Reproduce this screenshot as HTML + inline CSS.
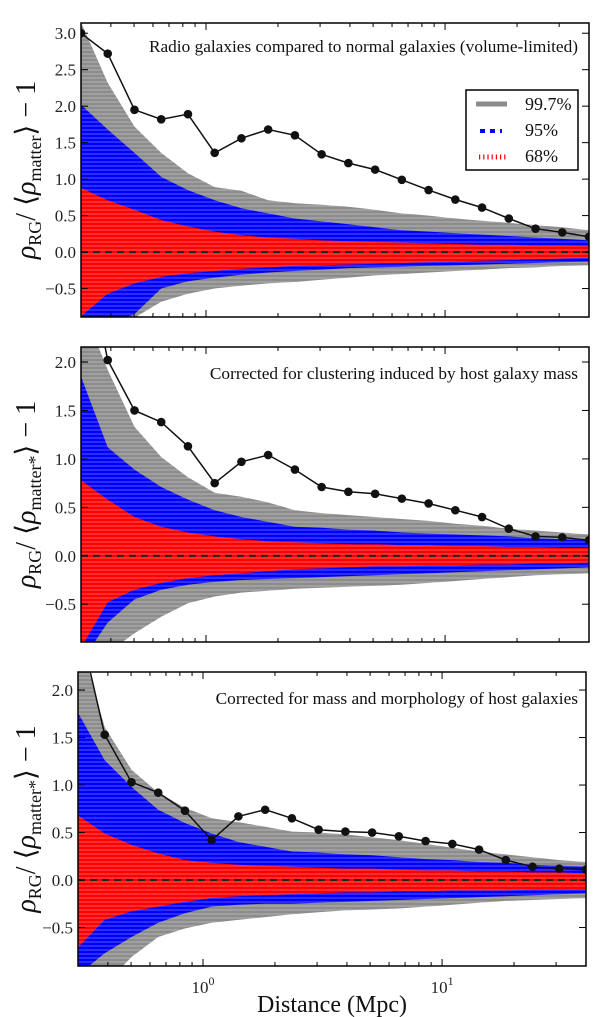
<!DOCTYPE html>
<html><head><meta charset="utf-8"><style>
html,body{margin:0;padding:0;background:#fff;}
svg{display:block;font-family:"Liberation Serif",serif;}
</style></head><body>
<svg id="chart" width="600" height="1017" viewBox="0 0 600 1017" xmlns="http://www.w3.org/2000/svg">
<defs>
<pattern id="hatch" width="8" height="4" patternUnits="userSpaceOnUse"><rect x="0" y="1.5" width="8" height="1" fill="#fff" opacity="0.35"/></pattern>
</defs>
</svg>
<script>
const NS="http://www.w3.org/2000/svg";
const svg=document.getElementById('chart');
const xMin=0.3, xMax=40;
const xTickLabels=["10","10"];
const yTicks=[-0.5,0.0,0.5,1.0,1.5,2.0,2.5,3.0];
const legendLabels=["99.7%","95%","68%"];
const titles=["Radio galaxies compared to normal galaxies (volume-limited)","Corrected for clustering induced by host galaxy mass","Corrected for mass and morphology of host galaxies"];

const obs1=[3.0,2.72,1.95,1.82,1.89,1.36,1.56,1.68,1.60,1.34,1.22,1.13,0.99,0.85,0.72,0.61,0.46,0.32,0.27,0.21];
const gu1=[3.15,2.32,1.72,1.36,1.08,0.89,0.84,0.71,0.67,0.65,0.62,0.58,0.53,0.50,0.46,0.43,0.40,0.37,0.34,0.30];
const bu1=[2.02,1.68,1.36,1.03,0.85,0.71,0.60,0.53,0.46,0.42,0.38,0.34,0.30,0.28,0.26,0.24,0.22,0.20,0.18,0.16];
const ru1=[0.88,0.71,0.58,0.44,0.35,0.28,0.23,0.20,0.18,0.16,0.15,0.14,0.13,0.12,0.11,0.10,0.10,0.09,0.09,0.08];
const rl1=[-0.88,-0.57,-0.43,-0.34,-0.29,-0.26,-0.23,-0.21,-0.19,-0.18,-0.17,-0.16,-0.15,-0.14,-0.13,-0.12,-0.11,-0.10,-0.09,-0.08];
const bl1=[-1.2,-1.0,-0.85,-0.5,-0.4,-0.35,-0.31,-0.28,-0.26,-0.24,-0.22,-0.21,-0.2,-0.19,-0.18,-0.17,-0.16,-0.15,-0.14,-0.13];
const gl1=[-1.5,-1.2,-0.9,-0.68,-0.57,-0.5,-0.46,-0.43,-0.41,-0.38,-0.35,-0.32,-0.3,-0.28,-0.26,-0.24,-0.22,-0.21,-0.19,-0.18];

const obs2=[3.4,2.02,1.50,1.38,1.13,0.75,0.97,1.04,0.89,0.71,0.66,0.64,0.59,0.54,0.47,0.40,0.28,0.20,0.19,0.16];
const gu2=[2.6,1.92,1.33,1.02,0.81,0.65,0.61,0.55,0.47,0.44,0.42,0.40,0.38,0.36,0.33,0.31,0.28,0.26,0.24,0.22];
const bu2=[1.85,1.12,0.89,0.71,0.58,0.47,0.40,0.35,0.30,0.29,0.27,0.26,0.24,0.23,0.22,0.21,0.20,0.18,0.17,0.16];
const ru2=[0.78,0.58,0.40,0.30,0.24,0.20,0.17,0.15,0.14,0.13,0.12,0.12,0.11,0.11,0.10,0.10,0.09,0.09,0.08,0.08];
const rl2=[-0.95,-0.48,-0.35,-0.28,-0.23,-0.20,-0.18,-0.16,-0.14,-0.13,-0.12,-0.11,-0.11,-0.10,-0.10,-0.09,-0.09,-0.08,-0.08,-0.07];
const bl2=[-1.1,-0.69,-0.45,-0.35,-0.30,-0.27,-0.25,-0.24,-0.23,-0.22,-0.21,-0.20,-0.19,-0.18,-0.17,-0.16,-0.15,-0.14,-0.13,-0.12];
const gl2=[-1.5,-1.0,-0.8,-0.63,-0.49,-0.42,-0.38,-0.36,-0.34,-0.33,-0.32,-0.31,-0.30,-0.28,-0.26,-0.24,-0.22,-0.20,-0.19,-0.18];

const obs3=[2.75,1.53,1.03,0.92,0.73,0.42,0.67,0.74,0.65,0.53,0.51,0.50,0.46,0.41,0.38,0.32,0.21,0.14,0.12,0.11];
const gu3=[2.6,1.61,1.16,0.92,0.76,0.65,0.61,0.56,0.51,0.50,0.48,0.45,0.42,0.38,0.34,0.30,0.27,0.24,0.21,0.19];
const bu3=[1.76,1.26,0.98,0.74,0.60,0.49,0.40,0.35,0.30,0.29,0.27,0.26,0.24,0.22,0.21,0.19,0.18,0.16,0.15,0.14];
const ru3=[0.68,0.49,0.37,0.28,0.21,0.18,0.16,0.15,0.14,0.13,0.12,0.12,0.11,0.10,0.10,0.09,0.09,0.08,0.08,0.07];
const rl3=[-0.71,-0.42,-0.33,-0.28,-0.23,-0.19,-0.17,-0.16,-0.15,-0.14,-0.13,-0.13,-0.12,-0.12,-0.11,-0.11,-0.11,-0.10,-0.10,-0.10];
const bl3=[-1.0,-0.77,-0.60,-0.45,-0.35,-0.28,-0.26,-0.25,-0.25,-0.24,-0.23,-0.22,-0.21,-0.20,-0.19,-0.18,-0.17,-0.16,-0.15,-0.14];
const gl3=[-1.3,-1.1,-0.81,-0.60,-0.51,-0.45,-0.42,-0.39,-0.36,-0.34,-0.32,-0.31,-0.30,-0.28,-0.26,-0.24,-0.22,-0.21,-0.20,-0.19];

const distances=[];
for(let i=0;i<20;i++) distances.push(Math.pow(10,Math.log10(xMin)+i*(Math.log10(xMax)-Math.log10(xMin))/19));

function mk(tag,attrs,parent){const e=document.createElementNS(NS,tag);for(const k in attrs)e.setAttribute(k,attrs[k]);(parent||svg).appendChild(e);return e;}

const panels=[
 {L:81,R:589,T:23,B:317,yMax:3.14,yMin:-0.89,obs:obs1,gu:gu1,bu:bu1,ru:ru1,rl:rl1,bl:bl1,gl:gl1,ylab:"matter",ty:52},
 {L:81,R:589,T:347,B:642,yMax:2.155,yMin:-0.89,obs:obs2,gu:gu2,bu:bu2,ru:ru2,rl:rl2,bl:bl2,gl:gl2,ylab:"matter*",ty:379},
 {L:78,R:586,T:672,B:966,yMax:2.19,yMin:-0.905,obs:obs3,gu:gu3,bu:bu3,ru:ru3,rl:rl3,bl:bl3,gl:gl3,ylab:"matter*",ty:704}
];

panels.forEach((p,pi)=>{
 const xs=v=>p.L+(Math.log10(v)-Math.log10(xMin))/(Math.log10(xMax)-Math.log10(xMin))*(p.R-p.L);
 const ys=v=>p.B-(v-p.yMin)/(p.yMax-p.yMin)*(p.B-p.T);
 const g=mk('g',{});
 
 
 const cid='clip'+pi;
 const cp=mk('clipPath',{id:cid},g); mk('rect',{x:p.L,y:p.T,width:p.R-p.L,height:p.B-p.T},cp);
 const pg=mk('g',{'clip-path':'url(#'+cid+')'},g);
 function band(up,lo,color,name){
  let d='M';
  distances.forEach((x,i)=>{d+=(i?' L':'')+xs(x).toFixed(1)+','+ys(up[i]).toFixed(1);});
  for(let i=distances.length-1;i>=0;i--) d+=' L'+xs(distances[i]).toFixed(1)+','+ys(lo[i]).toFixed(1);
  d+=' Z';
  const e=mk('path',{d:d,fill:color},pg);
  
  
  return d;
 }
 const gd=band(p.gu,p.gl,'#8c8c8c','band-99-7');
 band(p.bu,p.bl,'#0000ff','band-95');
 band(p.ru,p.rl,'#ff0000','band-68');
 mk('path',{d:gd,fill:'url(#hatch)'},pg);
 const zl=mk('line',{x1:p.L,x2:p.R,y1:ys(0),y2:ys(0),stroke:'#222','stroke-width':2,'stroke-dasharray':'7,5'},pg);
 
 
 const pts=distances.map((x,i)=>xs(x).toFixed(1)+','+ys(p.obs[i]).toFixed(1)).join(' ');
 const ln=mk('polyline',{points:pts,fill:'none',stroke:'#111','stroke-width':1.5},pg);
 
 
 distances.forEach((x,i)=>{
  const c=mk('circle',{cx:xs(x),cy:ys(p.obs[i]),r:4.3,fill:'#111'},pg);
  
  
 });
 mk('rect',{x:p.L,y:p.T,width:p.R-p.L,height:p.B-p.T,fill:'none',stroke:'#000','stroke-width':1.5},g);
 for(let e=-1;e<=1;e++){for(let m=1;m<10;m++){const v=m*Math.pow(10,e);if(v<xMin||v>xMax)continue;const x=xs(v);const len=m===1?7:4;
   mk('line',{x1:x,x2:x,y1:p.B,y2:p.B-len,stroke:'#000','stroke-width':1},g);
   mk('line',{x1:x,x2:x,y1:p.T,y2:p.T+len,stroke:'#000','stroke-width':1},g);}}
 yTicks.forEach(t=>{if(t>p.yMax||t<p.yMin)return;const y=ys(t);
  mk('line',{x1:p.L,x2:p.L+7,y1:y,y2:y,stroke:'#000'},g);
  mk('line',{x1:p.R,x2:p.R-7,y1:y,y2:y,stroke:'#000'},g);
  const tl=mk('text',{x:p.L-5,y:y+6,'text-anchor':'end','font-size':17,fill:'#222'},g);
  
  
  tl.textContent=(t<0?'\u2212'+Math.abs(t).toFixed(1):t.toFixed(1));
 });
 const tt=mk('text',{x:578,y:p.ty,'text-anchor':'end','font-size':17.3,fill:'#111'},g);
 
 
 tt.textContent=titles[pi];
 const cy=(p.T+p.B)/2;
 const yl=mk('text',{x:0,y:0,transform:'translate(35,'+cy+') rotate(-90)','text-anchor':'middle','font-size':28,fill:'#111'},g);
 
 
 yl.innerHTML='<tspan font-style="italic">ρ</tspan><tspan font-size="18" dy="6">RG</tspan><tspan dy="-6">/ ⟨</tspan><tspan font-style="italic">ρ</tspan><tspan font-size="18" dy="6">'+p.ylab+'</tspan><tspan dy="-6">⟩ − 1</tspan>';
 if(pi===2){
  [1,10].forEach((v,k)=>{const t=mk('text',{x:xs(v),y:993,'text-anchor':'middle','font-size':17,fill:'#222'},g);
   
   
   t.innerHTML=xTickLabels[k]+'<tspan font-size="12" dy="-8">'+k+'</tspan>';});
  const xt=mk('text',{x:332,y:1012,'text-anchor':'middle','font-size':24,fill:'#111'},g);
  
  
  xt.textContent='Distance (Mpc)';
 }
});
const lg=mk('g',{});


mk('rect',{x:466,y:90,width:112,height:80,fill:'#fff',stroke:'#000','stroke-width':1.5},lg);
mk('line',{x1:476,x2:507,y1:104,y2:104,stroke:'#8c8c8c','stroke-width':5},lg);
mk('line',{x1:480,x2:502,y1:131,y2:131,stroke:'#0000ff','stroke-width':4,'stroke-dasharray':'5,5'},lg);
mk('line',{x1:479,x2:506,y1:157,y2:157,stroke:'#ff0000','stroke-width':5,'stroke-dasharray':'1.2,3'},lg);
legendLabels.forEach((l,i)=>{const t=mk('text',{x:525,y:110+i*26,'font-size':18,fill:'#111'},lg);
 
 
 t.textContent=l;});
</script>
</body></html>
